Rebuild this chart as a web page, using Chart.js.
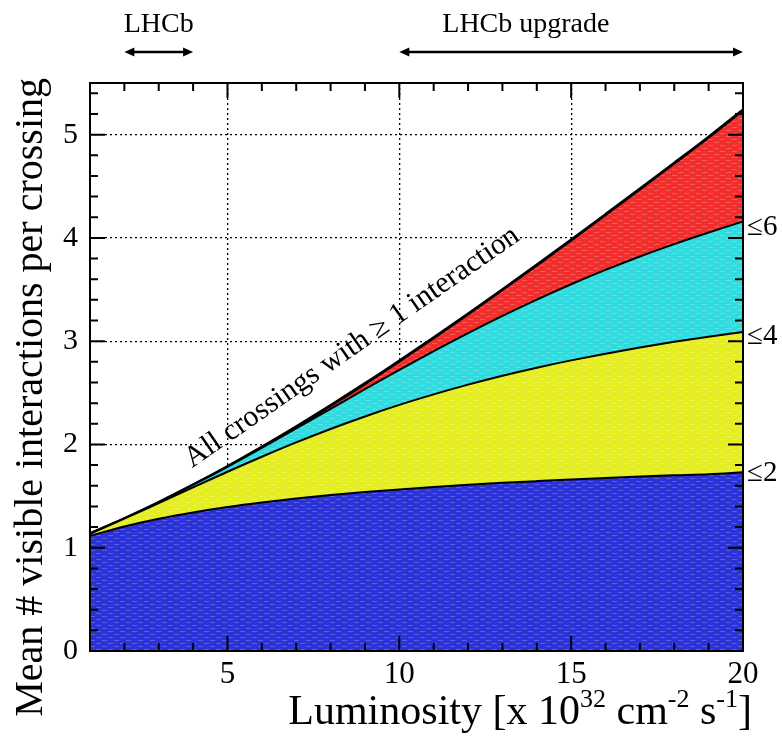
<!DOCTYPE html>
<html>
<head>
<meta charset="utf-8">
<script src="https://cdn.jsdelivr.net/npm/chart.js@4/dist/chart.umd.min.js"></script>
<style>
  html, body { margin: 0; padding: 0; background: #ffffff; }
  canvas { display: block; }
</style>
</head>
<body>
<canvas id="chart" width="782" height="738"></canvas>
<script>
// Luminosity in units of 10^32 cm^-2 s^-1
const luminosity = [1, 2, 3, 4, 5, 6, 7, 8, 9, 10, 11, 12, 13, 14, 15, 16, 17, 18, 19, 20];

// Mean number of visible interactions per crossing
const meanAll = [1.136, 1.282, 1.440, 1.609, 1.787, 1.975, 2.172, 2.377, 2.589, 2.809,
                 3.034, 3.264, 3.499, 3.738, 3.980, 4.226, 4.474, 4.724, 4.976, 5.240];
const meanUpTo6 = [1.136, 1.282, 1.440, 1.608, 1.784, 1.967, 2.155, 2.345, 2.535, 2.721,
                   2.903, 3.078, 3.245, 3.403, 3.551, 3.690, 3.820, 3.940, 4.052, 4.160];
const meanUpTo4 = [1.135, 1.281, 1.432, 1.584, 1.736, 1.881, 2.020, 2.150, 2.271, 2.383,
                   2.485, 2.579, 2.665, 2.743, 2.814, 2.879, 2.939, 2.994, 3.044, 3.090];
const meanUpTo2 = [1.115, 1.206, 1.281, 1.342, 1.394, 1.438, 1.476, 1.510, 1.539, 1.565,
                   1.588, 1.609, 1.628, 1.645, 1.661, 1.675, 1.689, 1.701, 1.712, 1.730];

// Axis ticks
const xTickValues = [5, 10, 15, 20];
const yTickValues = [0, 1, 2, 3, 4, 5];

// Running-period ranges shown above the frame
const periods = [
  { label: 'LHCb', from: 2, to: 4 },
  { label: 'LHCb upgrade', from: 10, to: 20 }
];

const SERIF = '"Liberation Serif", "Times New Roman", Times, serif';

function toPoints(ys) {
  return luminosity.map((x, i) => ({ x: x, y: ys[i] }));
}

// Solid fill with a faint light dash texture
function textured(color) {
  const c = document.createElement('canvas');
  c.width = 12; c.height = 6;
  const g = c.getContext('2d');
  g.fillStyle = color;
  g.fillRect(0, 0, 12, 6);
  g.fillStyle = 'rgba(255,255,255,0.22)';
  g.fillRect(0, 1, 5, 1);
  g.fillRect(6, 4, 5, 1);
  return g.createPattern(c, 'repeat');
}

function band(label, ys, fill, color, width) {
  return {
    label: label,
    data: toPoints(ys),
    fill: fill,
    backgroundColor: color,
    borderColor: '#000000',
    borderWidth: width,
    pointRadius: 0,
    cubicInterpolationMode: 'monotone'
  };
}

// Draws text made of normal and superscript pieces, right-aligned at x
function richTextRight(ctx, pieces, xRight, yBase, size) {
  const widths = pieces.map(p => {
    ctx.font = (p.sup ? size * 0.62 : size) + 'px ' + SERIF;
    return ctx.measureText(p.t).width;
  });
  let x = xRight - widths.reduce((a, b) => a + b, 0);
  ctx.textAlign = 'left';
  ctx.textBaseline = 'alphabetic';
  pieces.forEach((p, i) => {
    ctx.font = (p.sup ? size * 0.62 : size) + 'px ' + SERIF;
    ctx.fillText(p.t, x, p.sup ? yBase - size * 0.40 : yBase);
    x += widths[i];
  });
}

function arrow(ctx, x1, x2, y) {
  const head = 10, half = 4.5;
  ctx.beginPath();
  ctx.moveTo(x1 + 4, y);
  ctx.lineTo(x2 - 4, y);
  ctx.stroke();
  ctx.beginPath();
  ctx.moveTo(x1, y); ctx.lineTo(x1 + head, y - half); ctx.lineTo(x1 + head, y + half); ctx.closePath();
  ctx.moveTo(x2, y); ctx.lineTo(x2 - head, y - half); ctx.lineTo(x2 - head, y + half); ctx.closePath();
  ctx.fill();
}

const decorations = {
  id: 'decorations',
  afterDatasetsDraw(chart) {
    const ctx = chart.ctx;
    const xs = chart.scales.x, ys = chart.scales.y;
    const a = chart.chartArea;
    ctx.save();
    ctx.fillStyle = '#000';
    ctx.strokeStyle = '#000';

    // Frame
    ctx.lineWidth = 2;
    ctx.strokeRect(a.left, a.top, a.right - a.left, a.bottom - a.top);

    // Inward tick marks on all four sides
    ctx.lineWidth = 2;
    ctx.beginPath();
    for (let v = 1; v <= 20; v += 1) {
      const px = xs.getPixelForValue(v);
      const len = (v % 5 === 0) ? 15 : 8;
      ctx.moveTo(px, a.bottom); ctx.lineTo(px, a.bottom - len);
      ctx.moveTo(px, a.top); ctx.lineTo(px, a.top + len);
    }
    for (let k = 0; k <= 27; k += 1) {
      const v = k * 0.2;
      const py = ys.getPixelForValue(v);
      const len = (k % 5 === 0) ? 15 : 8;
      ctx.moveTo(a.left, py); ctx.lineTo(a.left + len, py);
      ctx.moveTo(a.right, py); ctx.lineTo(a.right - len, py);
    }
    ctx.stroke();

    // Axis titles
    richTextRight(ctx, [
      { t: 'Luminosity [x 10' }, { t: '32', sup: true }, { t: ' cm' }, { t: '-2', sup: true },
      { t: ' s' }, { t: '-1', sup: true }, { t: ']' }
    ], 752, 724, 42);

    ctx.save();
    ctx.translate(42, 78);
    ctx.rotate(-Math.PI / 2);
    ctx.font = '40px ' + SERIF;
    ctx.textAlign = 'right';
    ctx.textBaseline = 'alphabetic';
    ctx.fillText('Mean # visible interactions per crossing', 0, 0);
    ctx.restore();

    // Period ranges above the frame
    ctx.lineWidth = 2.5;
    ctx.font = '28px ' + SERIF;
    ctx.textBaseline = 'alphabetic';
    const p0 = periods[0], p1 = periods[1];
    arrow(ctx, xs.getPixelForValue(p0.from), xs.getPixelForValue(p0.to), 52);
    arrow(ctx, xs.getPixelForValue(p1.from), xs.getPixelForValue(p1.to), 52);
    ctx.textAlign = 'center';
    ctx.fillText(p0.label, xs.getPixelForValue((p0.from + p0.to) / 2), 32);
    ctx.textAlign = 'left';
    ctx.fillText(p1.label, xs.getPixelForValue(11.25), 32);

    // Multiplicity labels at the right end of each boundary
    const last = luminosity.length - 1;
    ctx.font = '29px ' + SERIF;
    ctx.textAlign = 'left';
    ctx.textBaseline = 'middle';
    [['\u22646', meanUpTo6[last], 6], ['\u22644', meanUpTo4[last], 5], ['\u22642', meanUpTo2[last], 1]]
      .forEach(([t, v, dy]) => ctx.fillText(t, a.right + 4, ys.getPixelForValue(v) + dy));

    // Label along the upper boundary
    const sx = xs.getPixelForValue(3.97), sy = ys.getPixelForValue(1.77);
    const ex = xs.getPixelForValue(13.3), ey = ys.getPixelForValue(3.93);
    ctx.save();
    ctx.translate(sx, sy);
    ctx.rotate(Math.atan2(ey - sy, ex - sx));
    ctx.font = '30px ' + SERIF;
    ctx.textAlign = 'left';
    ctx.textBaseline = 'alphabetic';
    ctx.fillText('All crossings with \u2265 1 interaction', 0, 0);
    ctx.restore();

    ctx.restore();
  }
};

new Chart(document.getElementById('chart'), {
  type: 'line',
  data: {
    datasets: [
      band('\u22642', meanUpTo2, 'origin', textured('#2a32d8'), 2),
      band('\u22644', meanUpTo4, '-1', textured('#e4ee20'), 2),
      band('\u22646', meanUpTo6, '-1', textured('#30dcdf'), 2),
      band('all', meanAll, '-1', textured('#f22e2c'), 3)
    ]
  },
  options: {
    responsive: false,
    devicePixelRatio: 1,
    animation: false,
    layout: { padding: { top: 83, right: 39, left: 0, bottom: 0 } },
    plugins: { legend: { display: false }, tooltip: { enabled: false } },
    scales: {
      x: {
        type: 'linear', min: 1, max: 20,
        afterBuildTicks: s => { s.ticks = xTickValues.map(v => ({ value: v })); },
        afterFit: s => { s.height = 87; },
        grid: { color: '#000', lineWidth: 1.3, drawTicks: false },
        border: { display: false, dash: [2, 3] },
        ticks: { font: { family: SERIF, size: 31 }, color: '#000', padding: 5, maxRotation: 0, autoSkip: false }
      },
      y: {
        type: 'linear', min: 0, max: 5.5,
        afterBuildTicks: s => { s.ticks = yTickValues.map(v => ({ value: v })); },
        afterFit: s => { s.width = 90; },
        grid: { color: '#000', lineWidth: 1.3, drawTicks: false },
        border: { display: false, dash: [2, 3] },
        ticks: { font: { family: SERIF, size: 30 }, color: '#000', padding: 12, autoSkip: false }
      }
    }
  },
  plugins: [decorations]
});
</script>
</body>
</html>
